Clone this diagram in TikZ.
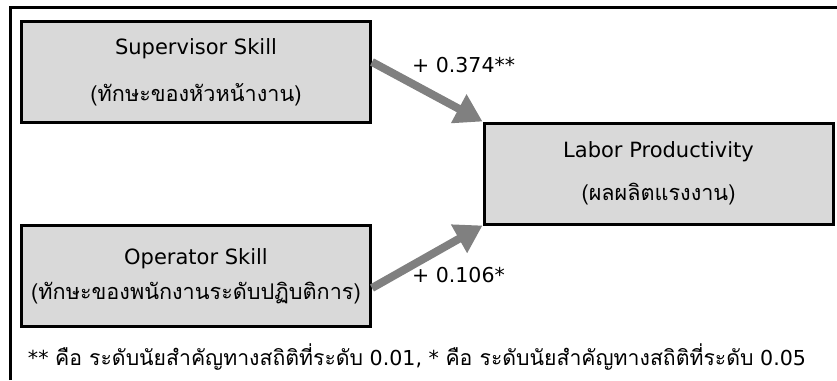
\documentclass[tikz,border=0pt]{standalone}
\usepackage{fontspec}
\setmainfont{DejaVu Sans}
\newfontfamily\thaifont[Script=Thai,Scale=1.03]{Loma}
\newcommand{\thtext}[1]{{\thaifont #1}}
\usetikzlibrary{arrows.meta}
\definecolor{boxgray}{RGB}{217,217,217}
\definecolor{arrowgray}{RGB}{128,128,128}
\tikzset{
  varbox/.style={draw=black, line width=3pt, fill=boxgray, align=center,
    minimum width=349pt, minimum height=101pt, inner sep=0pt},
  patharrow/.style={draw=arrowgray, line width=8pt,
    -{Triangle[length=27pt,width=31pt]}},
  coeff/.style={anchor=west, inner sep=0pt, font=\fontsize{20.5}{24}\selectfont}
}
\begin{document}
\begin{tikzpicture}[x=1pt,y=-1pt]
\useasboundingbox (0,0) rectangle (837,380);
\draw[line width=3pt] (10,380) -- (10,7.5) -- (837,7.5);
\node[varbox, font=\fontsize{21}{47}\selectfont] (s) at (196,72) {Supervisor Skill\\\thtext{(ทักษะของหัวหน้างาน)}};
\node[varbox, font=\fontsize{21}{43}\selectfont] (l) at (658.5,173.5) {Labor Productivity\\\thtext{(ผลผลิตแรงงาน)}};
\node[varbox, font=\fontsize{21}{35}\selectfont] (o) at (196,276) {Operator Skill\\\thtext{(ทักษะของพนักงานระดับปฏิบติการ)}};
\draw[patharrow] ([yshift=10pt]s.east) -- (l.north west);
\draw[patharrow] ([yshift=-12pt]o.east) -- (l.south west);
\node[coeff] (c1) at (412,65) {+ 0.374**};
\node[coeff] (c2) at (412,275) {+ 0.106*};
\node[inner sep=0pt, font=\fontsize{20.6}{24}\selectfont] (fn) at (417,357) {** \thtext{คือ ระดับนัยสำคัญทางสถิติที่ระดับ} 0.01, * \thtext{คือ ระดับนัยสำคัญทางสถิติที่ระดับ} 0.05};
\end{tikzpicture}
\end{document}
